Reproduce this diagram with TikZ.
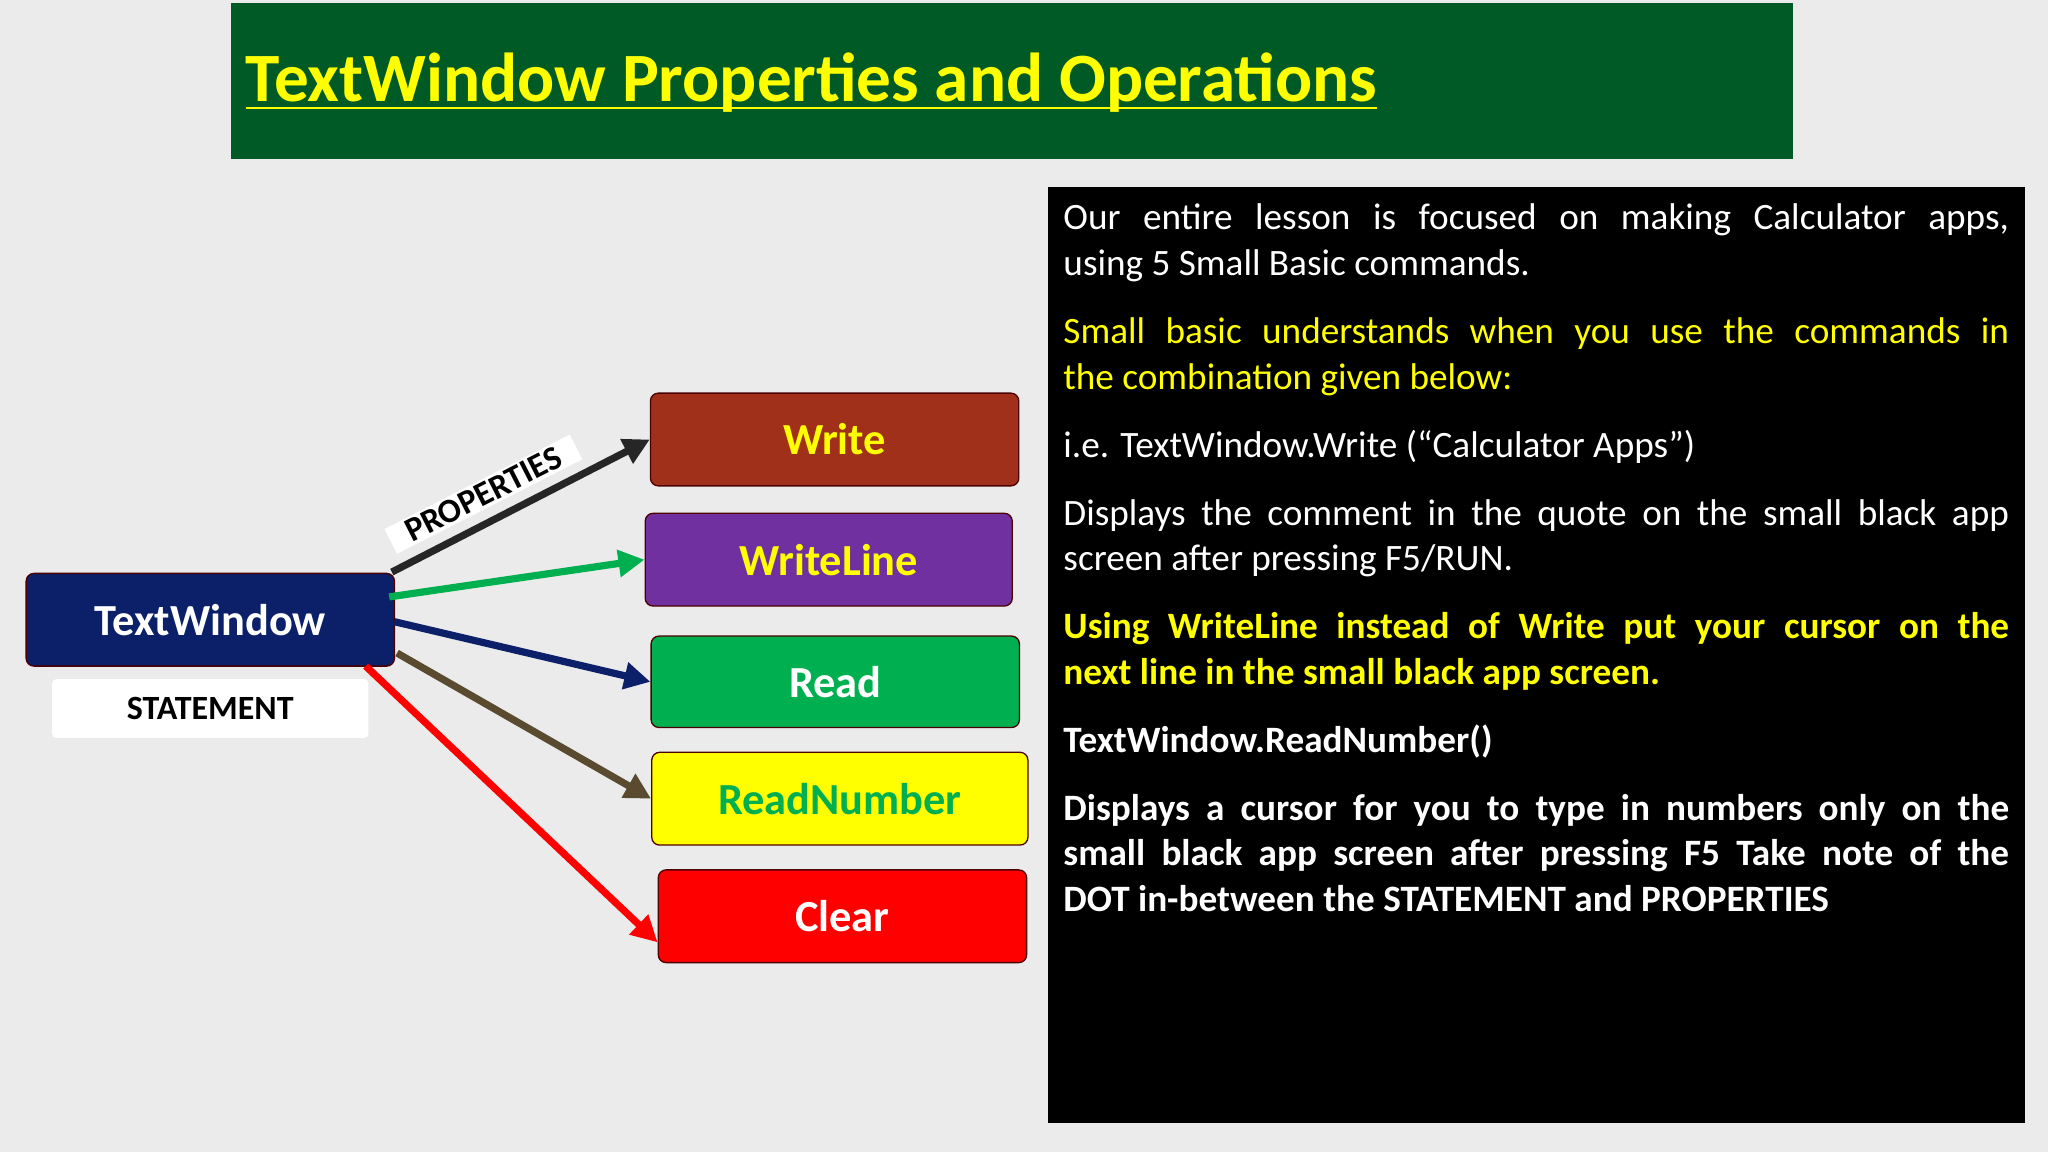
\documentclass[tikz,border=0pt]{standalone}
\usepackage{fontspec}
\setmainfont{Carlito}
\usetikzlibrary{arrows.meta}
\definecolor{bg}{HTML}{EBEBEB}
\definecolor{titlegreen}{HTML}{005A26}
\definecolor{navy}{HTML}{0B2068}
\definecolor{wbrown}{HTML}{A0301A}
\definecolor{purp}{HTML}{7030A0}
\definecolor{sgreen}{HTML}{00B050}
\definecolor{darkbrown}{HTML}{5A4A30}
\definecolor{yel}{HTML}{FFFF00}
\tikzset{
  opbox/.style={draw=black!70!red, line width=1pt, rounded corners=6pt, minimum width=282pt, minimum height=71pt, font=\fontsize{34}{40}\selectfont\bfseries},
  conn/.style={line width=5.5pt, -{Triangle[length=20pt,width=20pt]}}
}
\begin{document}
\begin{tikzpicture}[x=1pt,y=-1pt]
\fill[bg] (0,0) rectangle (1568,882);
\useasboundingbox (0,0) rectangle (1568,882);
\fill[titlegreen] (177,2) rectangle (1373,122);
\node[anchor=base west, text=yel, font=\fontsize{53}{60}\selectfont\bfseries, inner sep=0] (title) at (188,78) {TextWindow Properties and Operations};
\draw[yel, line width=1.5pt] ([yshift=-5pt]title.base west) -- ([yshift=-5pt]title.base east);
\fill[black] (802,143) rectangle (1550,860);
\node[anchor=north west, inner sep=0, text width=724pt, align=justify, text=white, font=\fontsize{28.5}{35}\selectfont] (para) at (814,156) {%
\setlength{\parskip}{17pt}\hyphenpenalty=10000\exhyphenpenalty=10000%
Our entire lesson is focused on making Calculator apps,\linebreak using 5 Small Basic commands.\par
{\color{yel}Small basic understands when you use the commands in\linebreak the combination given below:}\par
i.e. TextWindow.Write (“Calculator Apps”)\par
Displays the comment in the quote on the small black app screen after pressing F5/RUN.\par
{\color{yel}\bfseries Using WriteLine instead of Write put your cursor on the\linebreak next line in the small black app screen.}\par
{\bfseries TextWindow.ReadNumber()}\par
{\bfseries Displays a cursor for you to type in numbers only on the\linebreak small black app screen after pressing F5 Take note of the\linebreak DOT in-between the STATEMENT and PROPERTIES}\par};
\node[opbox, fill=navy, text=white, minimum width=282pt] (tw) at (161,474.5) {TextWindow};
\node[fill=white, rounded corners=3pt, minimum width=242pt, minimum height=45pt, font=\fontsize{26}{30}\selectfont\bfseries] (st) at (161,542.5) {STATEMENT};
\node[opbox, fill=wbrown, text=yel] (write) at (639,336.5) {Write};
\node[opbox, fill=purp, text=yel, minimum width=281pt] (wl) at (634.5,428.5) {WriteLine};
\node[opbox, fill=sgreen, text=white, minimum height=70pt] (read) at (639.5,522) {Read};
\node[opbox, fill=yel, text=sgreen, minimum width=288pt] (rn) at (643,611.5) {ReadNumber};
\node[opbox, fill=red, text=white] (clear) at (645,701.5) {Clear};
\coordinate (a1) at (300,438);
\coordinate (a2) at (298,457);
\coordinate (a3) at (302,476);
\coordinate (a4) at (304,500);
\coordinate (a5) at (280,510);
\draw[conn, black!85] (a1) -- (write.west);
\draw[conn, sgreen] (a2) -- (wl.west);
\draw[conn, navy] (a3) -- (read.west);
\draw[conn, darkbrown] (a4) -- (rn.west);
\draw[conn, red] (a5) -- ([yshift=-20pt]clear.west);
\node[fill=white, rotate=27, font=\fontsize{26}{30}\selectfont\bfseries, inner xsep=14pt, inner ysep=2pt, anchor=south] (prop) at (375,388) {PROPERTIES};
\end{tikzpicture}
\end{document}
